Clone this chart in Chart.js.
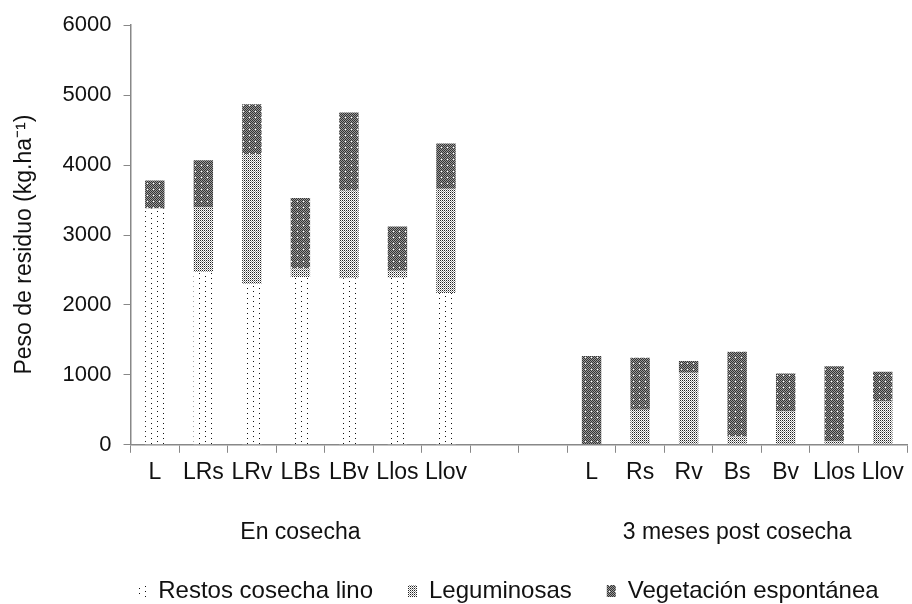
<!DOCTYPE html>
<html>
<head>
<meta charset="utf-8">
<script src="https://cdn.jsdelivr.net/npm/chart.js@4"></script>
<style>
  html, body { margin: 0; padding: 0; background: #fff; }
  #wrap { width: 912px; height: 604px; }
</style>
</head>
<body>
<div id="wrap"><canvas id="myChart"></canvas></div>
<script>
// categories (two empty slots separate the groups)
const categories = ['L', 'LRs', 'LRv', 'LBs', 'LBv', 'Llos', 'Llov', '', '',
                    'L', 'Rs', 'Rv', 'Bs', 'Bv', 'Llos', 'Llov']
const groups = ['En cosecha', '3 meses post cosecha']
const seriesNames = ['Restos cosecha lino', 'Leguminosas', 'Vegetación espontánea']
// values in kg/ha
const restos = [3380, 2470, 2300, 2400, 2380, 2390, 2170, null, null,
                0, 0, 0, 0, 0, 0, 0]
const leguminosas = [0, 925, 1855, 120, 1255, 100, 1490, null, null,
                     0, 500, 1030, 120, 475, 50, 620]
const vegetacion = [400, 675, 715, 1010, 1115, 630, 650, null, null,
                    1270, 745, 170, 1210, 545, 1075, 425]
const yTicks = [0, 1000, 2000, 3000, 4000, 5000, 6000]

const font = '"Liberation Sans", Arial, sans-serif'

// make a fill pattern from a small tile
function makePattern(w, h, draw) {
    const c = document.createElement('canvas')
    c.width = w
    c.height = h
    const g = c.getContext('2d')
    draw(g)
    return g.createPattern(c, 'repeat')
}

const patRestos = makePattern(12, 10, g => {
    g.fillStyle = '#fff'
    g.fillRect(0, 0, 12, 10)
    g.fillStyle = '#111'
    g.fillRect(1, 1, 1, 1)
    g.fillRect(1, 6, 1, 1)
    g.fillRect(7, 3, 1, 1)
    g.fillRect(7, 8, 1, 1)
})
const patLeg = makePattern(2, 2, g => {
    g.fillStyle = '#fff'
    g.fillRect(0, 0, 2, 2)
    g.fillStyle = '#222'
    g.fillRect(0, 0, 1, 1)
    g.fillStyle = '#999'
    g.fillRect(1, 1, 1, 1)
})
const patVeg = makePattern(6, 6, g => {
    for (let x = 0; x < 6; x++) {
        for (let y = 0; y < 6; y++) {
            g.fillStyle = (x + y) % 2 == 0 ? '#333' : '#9a9a9a'
            g.fillRect(x, y, 1, 1)
        }
    }
    g.fillStyle = '#fff'
    g.fillRect(3, 3, 1, 1)
})

const data = {
    labels: categories,
    datasets: [
        { label: seriesNames[0], data: restos, backgroundColor: patRestos },
        { label: seriesNames[1], data: leguminosas, backgroundColor: patLeg },
        { label: seriesNames[2], data: vegetacion, backgroundColor: patVeg }
    ]
}

const config = {
    type: 'bar',
    data: data,
    options: {
        responsive: true,
        maintainAspectRatio: false,
        animation: false,
        datasets: {
            bar: { barPercentage: 0.4, categoryPercentage: 1, borderWidth: 0 }
        },
        layout: { padding: { top: 22, right: 5, left: 0, bottom: -9 } },
        plugins: {
            tooltip: { enabled: false },
            legend: {
                position: 'bottom',
                align: 'end',
                labels: {
                    font: { family: font, size: 24 },
                    color: '#111',
                    boxWidth: 9,
                    boxHeight: 12,
                    padding: 15,
                    generateLabels: chart => {
                        const items = Chart.defaults.plugins.legend.labels.generateLabels(chart)
                        items.forEach((it, i) => {
                            it.lineWidth = 0
                            it.text = it.text + (i < items.length - 1 ? '   ' : '  ')
                        })
                        return items
                    }
                }
            }
        },
        scales: {
            x: {
                stacked: true,
                weight: 0,
                grid: { drawOnChartArea: false, tickLength: 8, color: '#888', offset: true },
                border: { color: '#888', width: 1.5 },
                ticks: { font: { family: font, size: 23 }, color: '#111', padding: 6, maxRotation: 0, autoSkip: false }
            },
            x2: {
                type: 'linear',
                position: 'bottom',
                weight: 1,
                offset: false,
                min: -0.5,
                max: categories.length - 0.5,
                grid: { display: false },
                border: { display: false },
                afterBuildTicks: axis => { axis.ticks = [{ value: 3 }, { value: 12 }] },
                ticks: {
                    font: { family: font, size: 23 },
                    color: '#111',
                    padding: 18,
                    maxRotation: 0,
                    callback: v => v == 3 ? groups[0] : groups[1]
                }
            },
            y: {
                stacked: true,
                min: 0,
                max: 6000,
                afterBuildTicks: axis => { axis.ticks = yTicks.map(v => ({ value: v })) },
                grid: { drawOnChartArea: false, tickLength: 7, color: '#888' },
                border: { color: '#888', width: 1.5 },
                ticks: { font: { family: font, size: 22 }, color: '#111', padding: 12, callback: v => String(v) },
                title: {
                    display: true,
                    text: 'Peso de residuo (kg.ha⁻¹)   ',
                    font: { family: font, size: 23 },
                    color: '#111',
                    padding: { top: 11, bottom: 12 }
                }
            }
        }
    }
}

const myChart = new Chart(document.getElementById('myChart'), config)
</script>
</body>
</html>
